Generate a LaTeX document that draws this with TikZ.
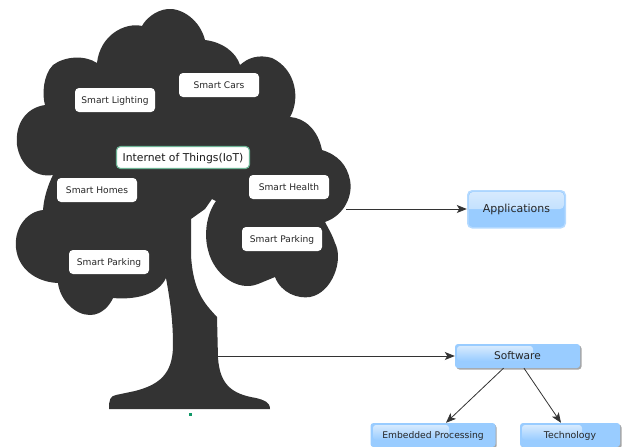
\documentclass[tikz,border=0pt]{standalone}
\usepackage{fontspec}
\setmainfont{DejaVu Sans}
\usetikzlibrary{arrows.meta}
\definecolor{treecol}{HTML}{333333}
\definecolor{bluemain}{HTML}{99CCFF}
\definecolor{bluelight}{HTML}{D6EAFE}
\definecolor{blueedge}{HTML}{B5DAFF}
\definecolor{iotgreen}{HTML}{6DB596}
\definecolor{dotgreen}{HTML}{109868}
\tikzset{
  leaf/.style={draw=none,fill=white,rounded corners=4pt,minimum width=80pt,minimum height=24pt,inner sep=0pt,text=black!85,text height=8pt,text depth=1.5pt,font=\fontsize{9.1}{10}\selectfont},
  root/.style={draw=iotgreen,line width=1.1pt,fill=white,rounded corners=4pt,minimum width=133pt,minimum height=22pt,inner sep=0pt,text=black!90,text height=9pt,text depth=2pt,font=\fontsize{10.8}{12}\selectfont},
  flat/.style={fill=bluemain,rounded corners=3pt,inner sep=0pt},
  caption/.style={text=black!85,inner sep=0pt,text height=8pt,text depth=1.5pt},
  gloss/.style={top color=bluelight,bottom color=bluemain,rounded corners=3pt},
  arrowline/.style={draw=black!80,line width=0.8pt,-{Stealth[length=10pt,width=8pt,inset=2.5pt]}},
}
\begin{document}
\begin{tikzpicture}[x=1pt,y=-1pt]
\useasboundingbox (0,0) rectangle (624,447);
% tree
\fill[treecol]
 (109,409) -- (270,409)
 .. controls (270,402) and (264,400) .. (256,398)
 .. controls (232,394) and (220,385) .. (218,358)
 -- (217,317)
 .. controls (205,304) and (193,292) .. (191,255)
 -- (191,219) -- (205,209) -- (212,199) -- (216,201)
 .. controls (206,215) and (204,235) .. (208,250)
 .. controls (214,275) and (238,292) .. (258,284)
 -- (275,277)
 .. controls (281,293) and (298,299) .. (310,297)
 .. controls (332,293) and (344,260) .. (335,243)
 .. controls (332,234) and (328,228) .. (325,222)
 .. controls (345,215) and (353,195) .. (350,180)
 .. controls (347,165) and (338,155) .. (322,150)
 .. controls (318,130) and (305,118) .. (290,117)
 .. controls (300,100) and (297,70) .. (272,58)
 .. controls (258,54) and (248,58) .. (240,65)
 .. controls (236,52) and (222,42) .. (205,40)
 .. controls (200,20) and (182,8) .. (168,9)
 .. controls (155,10) and (145,20) .. (142,26)
 .. controls (125,22) and (100,35) .. (97,63)
 .. controls (85,55) and (65,56) .. (53,65)
 .. controls (43,75) and (42,95) .. (45,105)
 .. controls (25,108) and (15,125) .. (17,145)
 .. controls (20,165) and (35,178) .. (53,175)
 .. controls (48,185) and (44,197) .. (43,210)
 .. controls (25,212) and (14,230) .. (16,248)
 .. controls (18,268) and (35,282) .. (58,283)
 .. controls (60,300) and (75,315) .. (90,315)
 .. controls (102,315) and (110,305) .. (113,298)
 .. controls (135,300) and (158,295) .. (166,278)
 .. controls (170,300) and (173,320) .. (173,345)
 .. controls (173,375) and (158,385) .. (135,391)
 -- (116,395)
 .. controls (110,396) and (109,400) .. (109,409)
 -- cycle;
\coordinate (crown) at (346,209);
\coordinate (trunk) at (217,356);
\fill[dotgreen] (188.5,412.5) rectangle (191.5,415.5);
% leaves
\node[leaf] (lighting) at (115,100) {Smart Lighting};
\node[leaf] (cars) at (219,85) {Smart Cars};
\node[root] (iot) at (183,157.5) {Internet of Things(IoT)};
\node[leaf] (homes) at (97,190) {Smart Homes};
\node[leaf] (health) at (289,187) {Smart Health};
\node[leaf] (parkr) at (282,239) {Smart Parking};
\node[leaf] (parkl) at (109,262) {Smart Parking};
% applications
\fill[blueedge,rounded corners=5pt] (467,190) rectangle (566,228.5);
\fill[bluemain,rounded corners=4pt] (468.5,191.5) rectangle (564.5,227);
\shade[top color=bluelight,bottom color=bluelight!70!bluemain,rounded corners=4pt] (469,209) -- (469,192) -- (564,192) -- (564,209) [sharp corners] -- cycle;
\node[caption,font=\fontsize{11}{12}\selectfont,minimum width=99pt,minimum height=38pt] (apps) at (516.5,209) {Applications};
% software etc.
\fill[black!35,rounded corners=3pt] (456.5,345.5) rectangle (581.5,369.5);
\fill[black!35,rounded corners=3pt] (372.5,424.5) rectangle (496.5,449);
\fill[black!35,rounded corners=3pt] (521.5,424.5) rectangle (621.5,449);
\node[flat,minimum width=125pt,minimum height=24pt] (soft) at (517.5,356) {};
\node[flat,minimum width=125pt,minimum height=24pt] (emb) at (433,435) {};
\node[flat,minimum width=100pt,minimum height=24pt] (tech) at (570,435) {};
\shade[gloss] (457,346) rectangle (533,361);
\shade[gloss] (373,425) rectangle (449,440);
\shade[gloss] (522,425) rectangle (582,440);
\node[caption,font=\fontsize{10.6}{12}\selectfont] at (soft) {Software};
\node[caption,font=\fontsize{9.2}{10}\selectfont] at (emb) {Embedded Processing};
\node[caption,font=\fontsize{9.3}{10}\selectfont] at (tech) {Technology};
% connectors
\draw[arrowline] (crown) -- (apps.west);
\draw[arrowline] (trunk) -- (soft.west);
\draw[arrowline] ([xshift=-14pt]soft.south) -- ([xshift=13pt]emb.north);
\draw[arrowline] ([xshift=6.5pt]soft.south) -- ([xshift=-9pt]tech.north);
\end{tikzpicture}
\end{document}
